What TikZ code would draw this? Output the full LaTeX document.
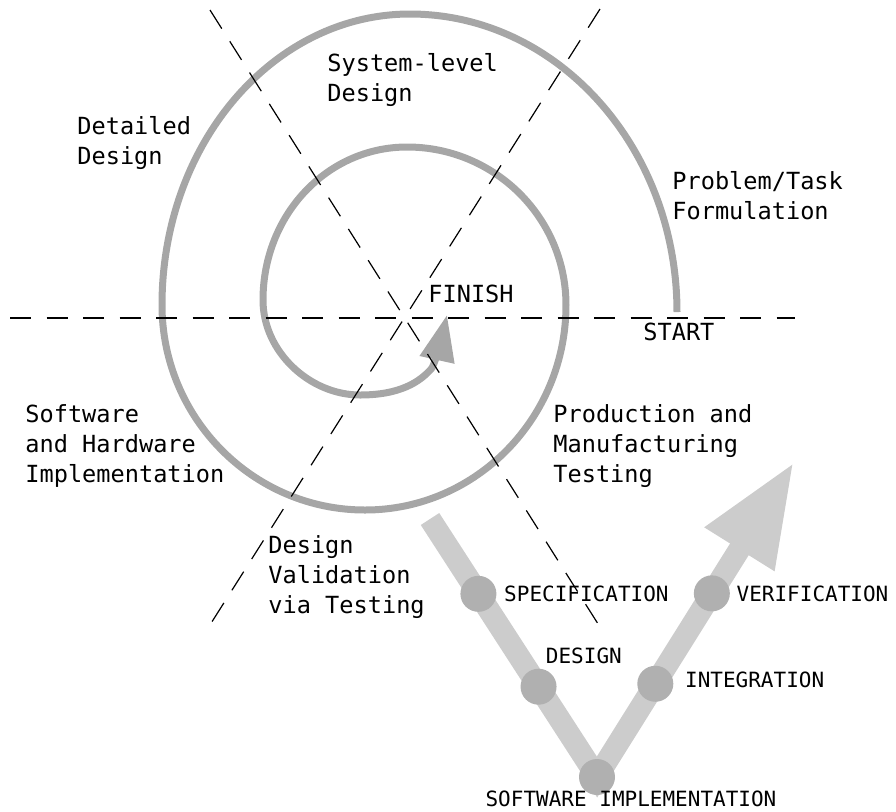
\documentclass[tikz,border=0pt]{standalone}
\usepackage{fontspec}
\setmonofont{DejaVu Sans Mono}
\usetikzlibrary{arrows.meta,calc,positioning}
\definecolor{spiralgray}{gray}{0.65}
\definecolor{bandgray}{gray}{0.8}
\definecolor{dotgray}{gray}{0.69}
\tikzset{
phase/.style={font=\ttfamily\fontsize{11.8}{14.9}\selectfont,align=left,anchor=west,inner sep=0pt},
vlabel/.style={font=\ttfamily\fontsize{10.5}{12}\selectfont,anchor=west,inner sep=0pt},
vdot/.style={circle,fill=dotgray,inner sep=0pt,minimum size=18pt},
axis/.style={dash pattern=on 10.5pt off 7.75pt,line width=1pt},
sector/.style={dash pattern=on 11pt off 7.5pt,line width=0.6pt},
spiral/.style={draw=spiralgray,line width=3.5pt,-{Triangle[length=23pt,width=17pt]}},
band/.style={draw=bandgray,line width=11pt,-{Triangle[length=51.5pt,width=38pt]}}}

\begin{document}
\begin{tikzpicture}[x=0.5pt,y=-0.5pt]
\useasboundingbox (0,0) rectangle (896,811);

% sector lines
\coordinate (hub) at (404,318);
\coordinate (west) at (10,318);
\coordinate (east) at (795,318);
\coordinate (nw) at (210,10);
\coordinate (se) at (600,627);
\coordinate (ne) at (600,9);
\coordinate (sw) at (208,628);

% spiral from START inwards to FINISH, one quarter at a time
\coordinate (start) at (677,312);
\coordinate (finish) at (447,315);
\draw[spiral] (start)
  .. controls (677,147) and (557,14) .. (410,14)
  .. controls (273,14) and (162,144) .. (162,305)
  .. controls (162,418) and (253,510) .. (365,510)
  .. controls (476,510) and (566,418) .. (566,305)
  .. controls (566,218) and (495,147) .. (407,147)
  .. controls (327,147) and (263,215) .. (263,300)
  .. controls (263,352) and (310,395) .. (360,395)
  .. controls (400,395) and (420,382) .. (432,368)
  .. controls (437,358) and (443,333) .. (finish);

% V model
\coordinate (vtop) at (430,519);
\coordinate (vbottom) at (597,777);
\coordinate (vtip) at (794,462);
\draw[band] (vtop) -- (vbottom) -- (vtip);

\node[vdot] (spec) at ($(vtop)!0.29!(vbottom)$) {};
\node[vdot] (design) at ($(vtop)!0.65!(vbottom)$) {};
\node[vdot] (impl) at (vbottom) {};
\node[vdot] (integ) at ($(vbottom)!0.296!(vtip)$) {};
\node[vdot] (verif) at ($(vbottom)!0.583!(vtip)$) {};

\node[vlabel,right=3.5pt of spec] {SPECIFICATION};
\node[vlabel] at ($(design)+(7,-31)$) {DESIGN};
\node[vlabel,right=5.5pt of integ,yshift=2pt] {INTEGRATION};
\node[vlabel,right=3pt of verif] {VERIFICATION};
\node[vlabel,anchor=center] at ($(impl)+(34,22)$) {SOFTWARE IMPLEMENTATION};

\draw[axis] (west) -- (east);
\draw[sector] (nw) -- (se);
\draw[sector] (ne) -- (sw);

% phases
\node[phase] (sys) at (327,80) {System-level\\Design};
\node[phase] (detail) at (77,143) {Detailed\\Design};
\node[phase] (problem) at (672,196) {Problem/Task\\Formulation};
\node[phase] (finishlbl) at (428,294) {FINISH};
\node[phase] (startlbl) at (643,332) {START};
\node[phase] (hwsw) at (25,446) {Software\\and Hardware\\Implementation};
\node[phase] (prod) at (553,446) {Production and\\Manufacturing\\Testing};
\node[phase] (valid) at (268,577) {Design\\Validation\\via Testing};
\end{tikzpicture}
\end{document}
